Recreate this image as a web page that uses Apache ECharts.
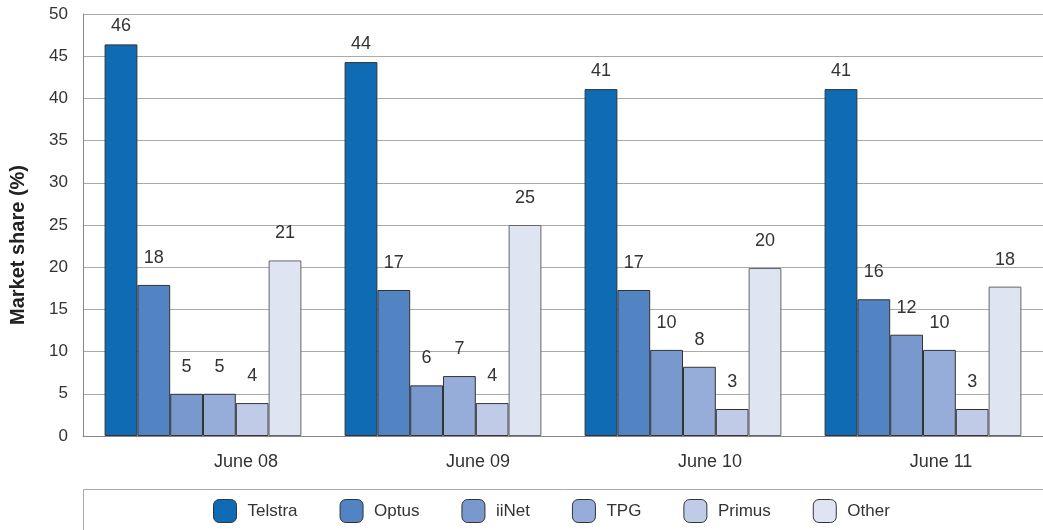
<!DOCTYPE html>
<html><head><meta charset="utf-8">
<script src="https://cdn.jsdelivr.net/npm/echarts@6/dist/echarts.min.js"></script>
<style>html,body{margin:0;padding:0;background:#fff}#c{width:1043px;height:530px}</style>
</head><body><div id="c"></div>
<script>
const categories = ['June 08', 'June 09', 'June 10', 'June 11'];
const seriesNames = ['Telstra', 'Optus', 'iiNet', 'TPG', 'Primus', 'Other'];
const telstra = [46.4, 44.3, 41.1, 41.1];
const optus = [17.9, 17.3, 17.3, 16.2];
const iinet = [5.0, 6.0, 10.2, 12.0];
const tpg = [5.0, 7.1, 8.2, 10.2];
const primus = [3.9, 3.9, 3.2, 3.2];
const other = [20.8, 25.0, 19.9, 17.7];
const yTicks = [0, 5, 10, 15, 20, 25, 30, 35, 40, 45, 50];

const values = [telstra, optus, iinet, tpg, primus, other];
const colors = ['#106BB5', '#5283C3', '#7898CE', '#97ADD9', '#BFCBE7', '#DEE4F2'];
const labelDistance = [9, 18, 18, 18, 18, 18];
const labelShift = [43, 35, 27, 18];
const font = 'Liberation Sans, Arial, sans-serif';
const txt = '#333';

const chart = echarts.init(document.getElementById('c'));
chart.setOption({
  animation: false,
  textStyle: { fontFamily: font },
  grid: { left: 83, right: 0, top: 14, bottom: 94, containLabel: false },
  legend: {
    left: 208, top: 494, itemWidth: 23, itemHeight: 23, itemGap: 42,
    textStyle: { fontSize: 17, color: txt, padding: [0, 0, 0, 6] },
    data: seriesNames.map((n, i) => ({ name: n, itemStyle: { color: colors[i], borderColor: '#333', borderWidth: 1 } }))
  },
  graphic: [{
    type: 'polyline', silent: true,
    shape: { points: [[83.5, 530], [83.5, 489.5], [1043, 489.5]] },
    style: { stroke: '#aaa', lineWidth: 1, fill: null }
  }],
  xAxis: {
    type: 'category',
    data: categories.map((c, i) => ({ value: c, textStyle: { padding: [0, 0, 0, labelShift[i] * 2] } })),
    axisLine: { lineStyle: { color: '#888' } },
    axisTick: { inside: true, length: 7, lineStyle: { color: '#888' } },
    axisLabel: { fontSize: 18, color: txt, margin: 17 }
  },
  yAxis: {
    type: 'value', min: 0, max: 50, interval: 5,
    name: 'Market share (%)', nameLocation: 'middle', nameGap: 55, nameRotate: 90,
    nameTextStyle: { fontSize: 20, fontWeight: 'bold', color: '#222', padding: [0, 40, 0, 0] },
    axisLine: { show: true, lineStyle: { color: '#888' } },
    axisTick: { show: false },
    axisLabel: { fontSize: 17, color: txt, margin: 15, formatter: v => yTicks.includes(v) ? String(v) : '' },
    splitLine: { lineStyle: { color: '#aaa' } }
  },
  series: seriesNames.map((n, i) => ({
    name: n, type: 'bar', barGap: '0%', barCategoryGap: '18%',
    data: values[i],
    itemStyle: { color: colors[i], borderColor: i === 5 ? '#666' : '#333', borderWidth: 1 },
    label: { show: true, position: 'top', distance: labelDistance[i], fontSize: 18, color: txt,
      formatter: p => String(Math.round(p.value)) }
  }))
});
</script></body></html>
